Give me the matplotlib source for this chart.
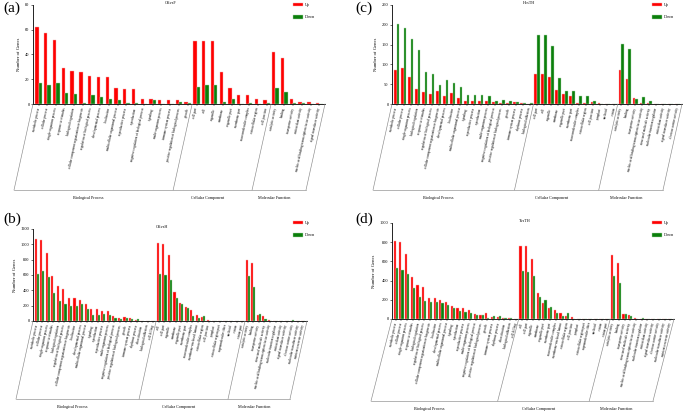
import matplotlib
matplotlib.use("Agg")
import matplotlib.pyplot as plt
import matplotlib.transforms as mtrans
from matplotlib.lines import Line2D
import numpy as np

plt.rcParams['font.family'] = ['Liberation Serif', 'DejaVu Serif']

# ---- GO terms ----
a_bp = ["metabolic process", "cellular process", "single-organism process", "response to stimulus",
        "biological regulation", "cellular component organization or biogenesis",
        "regulation of biological process", "developmental process", "localization",
        "multicellular organismal process", "reproductive process", "reproduction",
        "negative regulation of biological process", "signaling", "multi-organism process",
        "immune system process", "positive regulation of biological process", "growth"]
a_cc = ["cell part", "cell", "organelle", "membrane", "organelle part", "membrane part",
        "macromolecular complex", "extracellular region", "cell junction"]
a_mf = ["catalytic activity", "binding", "transporter activity", "antioxidant activity",
        "nucleic acid binding transcription factor activity", "signal transducer activity"]

c_bp = ["metabolic process", "cellular process", "single-organism process", "biological regulation",
        "response to stimulus", "regulation of biological process",
        "cellular component organization or biogenesis", "developmental process", "localization",
        "multicellular organismal process", "signaling", "reproductive process", "reproduction",
        "multi-organism process", "negative regulation of biological process",
        "positive regulation of biological process", "growth", "immune system process",
        "rhythmic process", "biological adhesion"]
c_cc = ["cell part", "cell", "organelle", "membrane", "organelle part", "membrane part",
        "macromolecular complex", "extracellular region", "cell junction", "symplast",
        "nucleoid", "virion"]
c_mf = ["catalytic activity", "binding", "transporter activity",
        "nucleic acid binding transcription factor activity", "structural molecule activity",
        "molecular function regulator", "antioxidant activity", "signal transducer activity",
        "electron carrier activity"]

bd_bp = ["metabolic process", "cellular process", "single-organism process", "response to stimulus",
         "biological regulation", "regulation of biological process",
         "cellular component organization or biogenesis", "localization", "developmental process",
         "multicellular organismal process", "signaling", "reproduction", "reproductive process",
         "multi-organism process", "negative regulation of biological process",
         "positive regulation of biological process", "growth", "immune system process",
         "rhythmic process", "detoxification", "biological adhesion", "cell killing"]
bd_cc = ["cell", "cell part", "organelle", "membrane", "organelle part", "membrane part",
         "macromolecular complex", "membrane-enclosed lumen", "extracellular region",
         "cell junction", "symplast", "extracellular region part", "supramolecular fiber",
         "nucleoid", "virion", "virion part"]
bd_mf = ["catalytic activity", "binding", "transporter activity", "structural molecule activity",
         "nucleic acid binding transcription factor activity", "molecular function regulator",
         "antioxidant activity", "signal transducer activity", "electron carrier activity",
         "molecular transducer activity", "nutrient reservoir activity"]

# ---- gene counts (Up / Down) ----
a_up = [62, 57, 52, 29, 27, 26, 23, 22, 22, 13, 12, 12, 4, 4, 3, 3, 3, 2,
        51, 51, 51, 26, 13, 7, 7, 4, 3,
        42, 37, 4, 2, 2, 1]
a_down = [17, 15, 17, 9, 8, 1, 7, 6, 4, 3, 1, 1, 0, 3, 0, 0, 2, 1,
          14, 15, 15, 2, 4, 0, 1, 0, 1,
          13, 10, 1, 1, 0, 0]

c_up = [87, 92, 68, 38, 30, 25, 32, 20, 27, 14, 8, 8, 8, 7, 5, 3, 3, 4, 3, 0,
        76, 76, 67, 35, 26, 19, 2, 2, 5, 2, 0, 0,
        87, 62, 14, 3, 2, 0, 0, 0, 0]
c_down = [203, 192, 165, 136, 81, 75, 47, 60, 53, 43, 23, 22, 22, 20, 8, 9, 7, 5, 3, 2,
          175, 175, 147, 66, 33, 34, 19, 19, 7, 0, 0, 0,
          152, 140, 13, 17, 7, 0, 0, 0, 0]

b_up = [1065, 1052, 887, 583, 457, 422, 304, 304, 278, 226, 157, 157, 132, 128, 64, 43, 47, 34, 9, 0, 0, 0,
        1012, 1008, 862, 380, 230, 179, 140, 81, 47, 17, 4, 0, 0, 0, 0, 0,
        800, 761, 72, 60, 9, 0, 0, 0, 0, 0, 0]
b_down = [617, 648, 574, 370, 261, 217, 196, 196, 217, 152, 83, 74, 89, 81, 38, 30, 38, 30, 21, 0, 0, 0,
          608, 604, 539, 306, 221, 170, 64, 43, 60, 0, 0, 0, 0, 0, 0, 0,
          583, 442, 89, 30, 0, 5, 6, 0, 8, 0, 0]

d_up = [817, 803, 676, 434, 355, 331, 221, 221, 193, 172, 138, 114, 114, 90, 52, 45, 62, 24, 24, 14, 10, 0,
        765, 765, 628, 266, 162, 117, 93, 59, 34, 17, 0, 0, 0, 0, 0, 0,
        665, 580, 55, 45, 14, 0, 0, 0, 0, 0, 0]
d_down = [531, 507, 469, 321, 224, 183, 172, 172, 166, 145, 110, 79, 69, 59, 41, 38, 14, 28, 28, 7, 10, 0,
          497, 490, 445, 224, 197, 121, 66, 34, 59, 0, 0, 0, 0, 0, 0, 0,
          448, 379, 55, 28, 0, 7, 0, 5, 0, 0, 0]

groups = ["Biological Process", "Cellular Component", "Molecular Function"]

RED = '#ff0000'
GREEN = '#0b7f0b'
W, H = 685, 413

fig = plt.figure(figsize=(6.85, 4.13), dpi=100)


def px_rect(x0, x1, ytop, ybot):
    return [x0 / W, 1 - ybot / H, (x1 - x0) / W, (ybot - ytop) / H]


def panel(rect, tag, tag_xy, title, up, down, terms, yticks, dx, dy, leg_xy):
    ax = fig.add_axes(px_rect(*rect))
    n = len(up)
    x = np.arange(n)
    w = 0.38
    ax.bar(x - w / 2, up, w, color=RED, edgecolor='#f2b0b0', linewidth=0.3, label='Up')
    ax.bar(x + w / 2, down, w, color=GREEN, edgecolor='#b0d8b0', linewidth=0.3, label='Down')
    ax.set_xlim(-0.65, n - 0.35)
    ax.set_ylim(0, yticks[-1])
    ax.set_yticks(yticks)
    ax.tick_params(axis='y', labelsize=3.2, length=1.5, width=0.4, pad=1)
    labels = terms[0] + terms[1] + terms[2]
    ax.set_xticks(x)
    ax.set_xticklabels(labels, rotation=78, ha='right', va='center',
                       rotation_mode='anchor', fontsize=2.4)
    ax.tick_params(axis='x', length=1.2, width=0.3, pad=1.5)
    for s in ['top', 'right']:
        ax.spines[s].set_visible(False)
    for s in ['left', 'bottom']:
        ax.spines[s].set_linewidth(0.6)
    ax.set_ylabel('Number of Genes', fontsize=3.4, labelpad=3)
    fig.text(tag_xy[0] / W, 1 - tag_xy[1] / H, tag, fontsize=11, va='center', ha='left')
    fig.text((rect[0] + rect[1]) / 2 / W - 0.012, 1 - (rect[2] - 2) / H, title,
             fontsize=3, ha='center', va='center')
    leg = ax.legend(loc='upper left', bbox_to_anchor=(leg_xy[0] / W, 1 - leg_xy[1] / H),
                    bbox_transform=fig.transFigure, frameon=False, fontsize=3,
                    handlelength=2.4, handleheight=0.8, labelspacing=2.0,
                    handletextpad=0.5, borderpad=0, borderaxespad=0)

    # group brackets
    sizes = [len(t) for t in terms]
    bounds = [-0.65, sizes[0] - 0.5, sizes[0] + sizes[1] - 0.5, n - 0.35]
    trans = mtrans.blended_transform_factory(ax.transData, ax.transAxes)
    inv = fig.transFigure.inverted()
    tops, bots = [], []
    for b in bounds:
        px, py = trans.transform((b, 0))
        tops.append(inv.transform((px, py)))
        bots.append(inv.transform((px - dx, py - dy)))
    for t, bt in zip(tops, bots):
        fig.add_artist(Line2D([t[0], bt[0]], [t[1], bt[1]], transform=fig.transFigure,
                              color='#8a8a8a', lw=0.45))
    fig.add_artist(Line2D([bots[0][0], bots[-1][0]], [bots[0][1], bots[-1][1]],
                          transform=fig.transFigure, color='#8a8a8a', lw=0.45))
    for i, g in enumerate(groups):
        cx = (bots[i][0] + bots[i + 1][0]) / 2 - 5 / W
        fig.text(cx, bots[0][1] - 8 / H, g, fontsize=3, ha='center', va='center')
    return ax


panel((33, 325, 5, 104), '(a)', (3, 8), 'CKvsF', a_up, a_down, (a_bp, a_cc, a_mf),
      [0, 20, 40, 60, 80], 19, 86, (293, 3))
panel((392, 682, 5, 104), '(c)', (355, 8), 'HvsTH', c_up, c_down, (c_bp, c_cc, c_mf),
      [0, 50, 100, 150, 200, 250], 19, 86, (652, 3))
panel((33, 307, 229, 321), '(b)', (3, 219), 'CKvsH', b_up, b_down, (bd_bp, bd_cc, bd_mf),
      [0, 200, 400, 600, 800, 1000, 1200], 17, 78, (293, 221))
panel((392, 674, 223, 319), '(d)', (355, 219), 'TvsTH', d_up, d_down, (bd_bp, bd_cc, bd_mf),
      [0, 200, 400, 600, 800, 1000], 21, 82, (652, 221))

fig.savefig('out.png', dpi=100)
